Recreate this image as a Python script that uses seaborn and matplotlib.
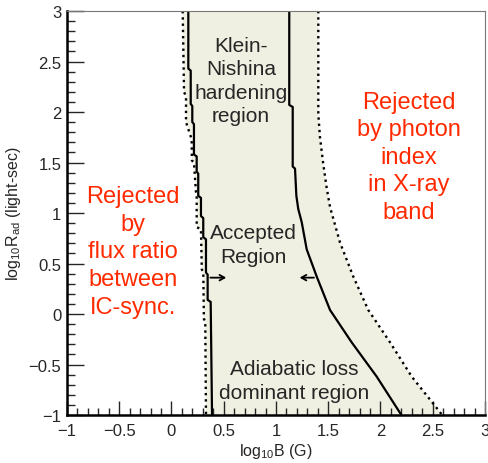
import numpy as np
import pandas as pd
import matplotlib
matplotlib.use('Agg')
import matplotlib.pyplot as plt
import seaborn as sns
from matplotlib.ticker import MultipleLocator

# boundary curves (log10 B, log10 R_ad)
left_dot_y = [3.00, 2.20, 2.15, 1.90, 1.83, 1.73, 1.52, 1.50, 1.21, 1.19, 0.86, 0.84, 0.44, 0.42, -0.05, -0.07, -1.00]
left_dot_x = [0.107, 0.120, 0.139, 0.139, 0.161, 0.193, 0.195, 0.215, 0.234, 0.241, 0.241, 0.282, 0.290, 0.304, 0.310, 0.323, 0.330]

left_sol_y = [3.00, 2.43, 2.41, 2.08, 2.06, 1.90, 1.88, 1.58, 1.56, 1.41, 1.39, 1.17, 1.15, 0.97, 0.95, 0.76, 0.74, 0.41, 0.39, 0.14, 0.12, -1.00]
left_sol_x = [0.161, 0.161, 0.184, 0.184, 0.199, 0.199, 0.215, 0.215, 0.241, 0.241, 0.256, 0.256, 0.282, 0.282, 0.304, 0.304, 0.330, 0.330, 0.346, 0.346, 0.375, 0.388]

right_sol_y = [3.00, 2.07, 2.05, 1.46, 1.44, 1.17, 1.04, 0.91, 0.64, 0.37, 0.04, -0.28, -0.62, -1.00]
right_sol_x = [1.127, 1.127, 1.160, 1.160, 1.182, 1.195, 1.213, 1.246, 1.294, 1.390, 1.517, 1.724, 1.964, 2.200]

right_dot_y = [3.00, 1.98, 1.75, 1.48, 1.25, 1.06, 0.71, 0.37, 0.04, -0.28, -0.62, -0.95, -1.00]
right_dot_x = [1.405, 1.405, 1.421, 1.453, 1.485, 1.517, 1.612, 1.740, 1.883, 2.091, 2.299, 2.553, 2.590]

tick_vals = [-1, -0.5, 0, 0.5, 1, 1.5, 2, 2.5, 3]
tick_text = ['\u22121', '\u22120.5', '0', '0.5', '1', '1.5', '2', '2.5', '3']

sns.set_style('white')
plt.rcParams['font.family'] = ['Liberation Sans', 'DejaVu Sans']
plt.rcParams['mathtext.fontset'] = 'custom'
plt.rcParams['mathtext.rm'] = 'Liberation Sans'
plt.rcParams['mathtext.it'] = 'Liberation Sans:italic'
plt.rcParams['mathtext.default'] = 'regular'

fig = plt.figure(figsize=(4.89, 4.64), dpi=100)
ax = fig.add_axes([0.137, 0.1034, 0.8548, 0.8707])

# accepted band between the two dotted limits
ax.fill(left_dot_x + right_dot_x[::-1], left_dot_y + right_dot_y[::-1],
        color='#f0f0e2', lw=0, zorder=0)

curves = [(left_dot_x, left_dot_y, ':'), (left_sol_x, left_sol_y, '-'),
          (right_sol_x, right_sol_y, '-'), (right_dot_x, right_dot_y, ':')]
for cx, cy, ls in curves:
    df = pd.DataFrame({'x': cx, 'y': cy})
    sns.lineplot(data=df, x='x', y='y', sort=False, estimator=None, ax=ax,
                 color='black', linestyle=ls, lw=1.7 if ls == ':' else 1.6)

# arrows
arrow = dict(arrowstyle='->,head_length=0.35,head_width=0.2', lw=1.3, color='black')
ax.annotate('', xy=(0.55, 0.36), xytext=(0.345, 0.36), arrowprops=arrow)
ax.annotate('', xy=(1.20, 0.36), xytext=(1.39, 0.36), arrowprops=arrow)

red = '#ff2a00'
ax.text(0.665, 2.31, 'Klein-\nNishina\nhardening\nregion', ha='center', va='center',
        fontsize=15, linespacing=1.3)
ax.text(0.78, 0.69, 'Accepted\nRegion', ha='center', va='center', fontsize=15, linespacing=1.3)
ax.text(1.17, -0.66, 'Adiabatic loss\ndominant region', ha='center', va='center',
        fontsize=15, linespacing=1.3)
ax.text(-0.368, 0.62, 'Rejected\nby\nflux ratio\nbetween\nIC-sync.', ha='center', va='center',
        fontsize=17, color=red, linespacing=1.33)
ax.text(2.27, 1.557, 'Rejected\nby photon\nindex\nin X-ray\nband', ha='center', va='center',
        fontsize=17, color=red, linespacing=1.33)

ax.set_xlim(-1, 3)
ax.set_ylim(-1, 3)
ax.xaxis.set_minor_locator(MultipleLocator(0.1))
ax.yaxis.set_minor_locator(MultipleLocator(0.1))
ax.set_xticks(tick_vals)
ax.set_xticklabels(tick_text)
ax.set_yticks(tick_vals)
ax.set_yticklabels(tick_text)
ax.tick_params(axis='x', which='major', direction='in', length=10, width=1, labelsize=12, pad=6)
ax.tick_params(axis='x', which='minor', direction='in', length=5, width=1)
ax.tick_params(axis='y', which='major', direction='in', length=12, width=1, labelsize=12, pad=4)
ax.tick_params(axis='y', which='minor', direction='in', length=6, width=1)
ax.tick_params(bottom=True, left=True, which='both')

for s in ['left', 'bottom']:
    ax.spines[s].set_color('black')
    ax.spines[s].set_linewidth(1.8)
for s in ['top', 'right']:
    ax.spines[s].set_color('#777777')
    ax.spines[s].set_linewidth(0.8)

ax.set_xlabel('log$_{10}$B (G)', fontsize=11.5, labelpad=2)
ax.set_ylabel('log$_{10}$R$_{ad}$ (light-sec)', fontsize=11.5, labelpad=4)

fig.savefig('out.png', dpi=100)
